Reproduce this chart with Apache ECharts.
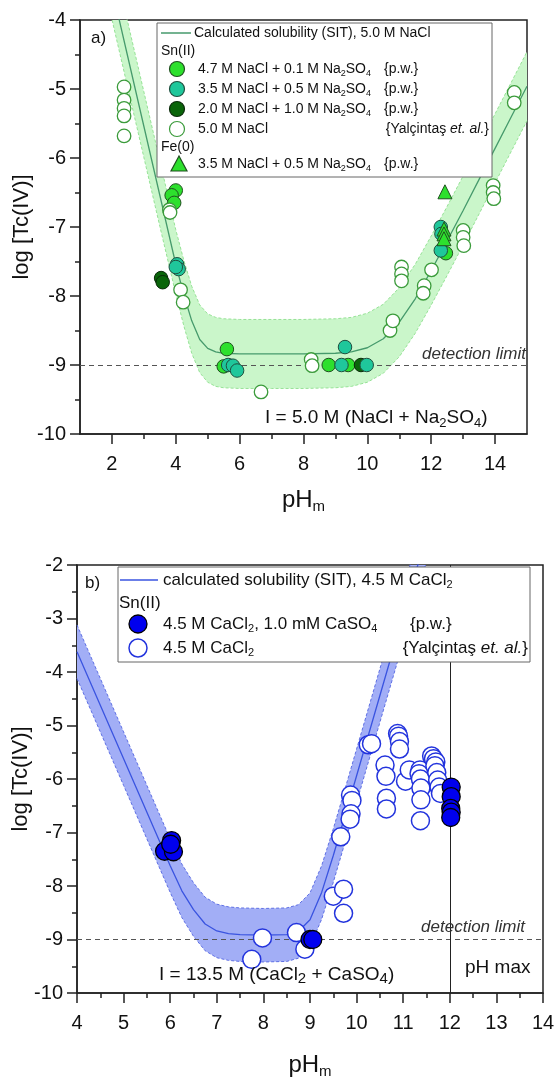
<!DOCTYPE html>
<html><head><meta charset="utf-8">
<script src="https://cdn.jsdelivr.net/npm/echarts@6/dist/echarts.min.js"></script>
<style>html,body{margin:0;padding:0;background:#fff}#c{width:557px;height:1077px}</style>
</head><body><div id="c"></div>
<script>
// ================= DATA: panel a) =================
const aXLabels = [2, 4, 6, 8, 10, 12, 14];
const aXMinor = [3, 5, 7, 9, 11, 13];
const aCurvePH = [1.9, 2.0, 2.5, 3.0, 3.5, 4.0, 4.25, 4.5, 4.75, 5.0, 5.25, 5.5, 6.0, 7.0, 8.0, 9.0, 9.5, 10.0, 10.5, 11.0, 11.5, 12.0, 12.5, 13.0, 13.5, 14.0, 14.5, 15.0];
const aCurve = [-3.34, -3.54, -4.54, -5.54, -6.54, -7.54, -7.98, -8.36, -8.63, -8.76, -8.81, -8.83, -8.84, -8.84, -8.84, -8.83, -8.81, -8.75, -8.62, -8.38, -8.04, -7.63, -7.20, -6.76, -6.31, -5.86, -5.41, -4.96];
const aUpper = [-2.84, -3.04, -4.04, -5.04, -6.04, -7.04, -7.48, -7.86, -8.13, -8.26, -8.31, -8.33, -8.34, -8.34, -8.34, -8.33, -8.31, -8.25, -8.12, -7.88, -7.54, -7.13, -6.70, -6.26, -5.81, -5.36, -4.91, -4.46];
const aLower = [-3.79, -3.99, -4.99, -5.99, -6.99, -7.97, -8.43, -8.83, -9.11, -9.25, -9.31, -9.33, -9.34, -9.34, -9.34, -9.33, -9.31, -9.25, -9.12, -8.88, -8.54, -8.13, -7.70, -7.26, -6.81, -6.36, -5.91, -5.46];
const aSnNa01 = [[4.00, -6.47], [3.87, -6.54], [3.95, -6.65], [5.60, -8.77], [5.50, -9.02], [8.79, -9.00], [9.40, -9.00], [12.46, -7.38]];
const aSnNa10 = [[3.54, -7.74], [3.59, -7.80], [9.80, -9.00]];
const aSnNa05 = [[4.04, -7.54], [4.09, -7.61], [4.00, -7.58], [5.64, -9.00], [5.79, -9.01], [5.92, -9.08], [9.30, -8.74], [9.19, -9.00], [9.98, -9.00], [12.30, -7.00], [12.32, -7.10], [12.30, -7.34]];
const aYalcintas = [[2.38, -4.97], [2.38, -5.16], [2.38, -5.28], [2.38, -5.39], [2.38, -5.68], [3.80, -6.75], [3.82, -6.79], [4.15, -7.91], [4.23, -8.09], [6.67, -9.39], [8.24, -8.92], [8.27, -9.01], [10.71, -8.50], [10.80, -8.36], [11.07, -7.58], [11.07, -7.68], [11.07, -7.78], [11.78, -7.85], [11.75, -7.96], [12.01, -7.62], [13.00, -7.05], [13.00, -7.15], [13.02, -7.27], [13.94, -6.40], [13.94, -6.50], [13.96, -6.59], [14.60, -5.05], [14.60, -5.20]];
const aFe = [[12.43, -6.49], [12.40, -7.03], [12.40, -7.10], [12.40, -7.17]];
const aDetection = -9;

// ================= DATA: panel b) =================
const bCurvePH = [4.0, 4.5, 5.0, 5.5, 6.0, 6.25, 6.5, 6.75, 7.0, 7.25, 7.5, 8.0, 8.5, 8.75, 9.0, 9.25, 9.5, 9.75, 10.0, 10.5, 11.0, 11.5];
const bCurve = [-3.62, -4.62, -5.62, -6.62, -7.62, -8.09, -8.44, -8.71, -8.84, -8.89, -8.91, -8.92, -8.91, -8.85, -8.63, -8.12, -7.43, -6.69, -5.94, -4.44, -2.94, -1.44];
const bUpper = [-3.12, -4.12, -5.12, -6.12, -7.12, -7.59, -7.94, -8.21, -8.34, -8.39, -8.41, -8.42, -8.41, -8.35, -8.13, -7.62, -6.93, -6.19, -5.44, -3.94, -2.44, -0.94];
const bLower = [-4.12, -5.12, -6.12, -7.12, -8.12, -8.59, -8.94, -9.21, -9.34, -9.39, -9.41, -9.42, -9.41, -9.35, -9.13, -8.62, -7.93, -7.19, -6.44, -4.94, -3.44, -1.94];
const bSnCaSO4 = [[5.88, -7.35], [6.03, -7.15], [6.07, -7.36], [6.01, -7.22], [9.00, -9.00], [9.06, -9.00], [12.03, -6.15], [12.03, -6.33], [12.02, -6.55], [12.03, -6.62], [12.02, -6.72]];
const bYalcintas = [[7.75, -9.37], [7.98, -8.97], [8.71, -8.87], [8.89, -9.18], [9.50, -8.19], [9.72, -8.06], [9.72, -8.51], [9.66, -7.08], [9.87, -6.30], [9.90, -6.40], [9.88, -6.65], [9.86, -6.75], [10.25, -5.36], [10.32, -5.34], [10.88, -5.15], [10.90, -5.20], [10.92, -5.30], [10.92, -5.44], [10.61, -5.74], [10.63, -5.95], [10.64, -6.36], [10.64, -6.56], [11.05, -6.04], [11.13, -5.83], [11.36, -5.83], [11.34, -5.90], [11.37, -6.00], [11.38, -6.17], [11.38, -6.39], [11.37, -6.78], [11.61, -5.57], [11.65, -5.62], [11.70, -5.68], [11.68, -5.75], [11.72, -5.88], [11.74, -6.02], [11.77, -6.15], [11.80, -6.27]];
const bDetection = -9;
const bPHmax = 12;

// ================= STYLE =================
const FF = '"Liberation Sans", Arial, Helvetica, sans-serif';
const INK = '#111';
const AX = '#222';
const A_CURVE = '#469a6c', A_FILL = 'rgb(202,246,202)', A_EDGE = 'rgb(150,226,150)';
const B_CURVE = '#3a54e0', B_FILL = 'rgb(162,174,246)', B_EDGE = 'rgb(95,112,228)';

function pairs(xs, ys) { return xs.map((x, i) => [x, ys[i]]); }

function band(idx, ph, up, lo, fill) {
  return {
    type: 'custom', xAxisIndex: idx === 0 ? 0 : 2, yAxisIndex: idx, clip: true, silent: true, z: 1,
    data: [[ph[0], up[0]]],
    renderItem: function (params, api) {
      const pts = [];
      for (let i = 0; i < ph.length; i++) pts.push(api.coord([ph[i], up[i]]));
      for (let i = ph.length - 1; i >= 0; i--) pts.push(api.coord([ph[i], lo[i]]));
      return { type: 'polygon', shape: { points: pts }, style: { fill: fill, stroke: null } };
    }
  };
}
function line(idx, data, color, width, type, extra) {
  return Object.assign({
    type: 'line', xAxisIndex: idx === 0 ? 0 : 2, yAxisIndex: idx, data: data, showSymbol: false, symbol: 'none',
    smooth: false, silent: true, z: 2, clip: true,
    lineStyle: { color: color, width: width, type: type }
  }, extra || {});
}
function scatter(idx, data, size, style, symbol) {
  return {
    type: 'scatter', xAxisIndex: idx === 0 ? 0 : 2, yAxisIndex: idx, data: data, symbol: symbol || 'circle',
    symbolSize: size, silent: true, z: 5, itemStyle: Object.assign({ opacity: 1 }, style)
  };
}

const richBase = (size, sub) => ({
  a: { fontSize: size, fontFamily: FF, fill: INK, lineHeight: size + 4 },
  i: { fontSize: size, fontFamily: FF, fill: INK, fontStyle: 'italic', lineHeight: size + 4 },
  s: { fontSize: sub, fontFamily: FF, fill: INK, lineHeight: sub, verticalAlign: 'bottom' }
});
function txt(x, y, text, size, extra) {
  return {
    type: 'text', x: x, y: y, z: 110, silent: true,
    style: Object.assign({ text: text, fontSize: size, fontFamily: FF, fill: INK, verticalAlign: 'middle', align: 'left' }, extra || {})
  };
}
function rtxt(x, y, text, size, sub, extra) {
  return txt(x, y, text, size, Object.assign({ rich: richBase(size, sub) }, extra || {}));
}

// ================= GRAPHIC (legends & annotations) =================
const G = [];
// panel a legend
G.push({ type: 'rect', z: 100, silent: true, shape: { x: 157, y: 23, width: 335, height: 154 }, style: { fill: '#fff', stroke: '#666', lineWidth: 1 } });
G.push({ type: 'line', z: 110, silent: true, shape: { x1: 161, y1: 33, x2: 191, y2: 33 }, style: { stroke: A_CURVE, lineWidth: 1.5 } });
G.push(txt(194, 33, 'Calculated solubility (SIT), 5.0 M NaCl', 14));
G.push(txt(161, 51, 'Sn(II)', 14));
const aLegRows = [
  { y: 69, fill: '#2de02d', stroke: '#1f4f1f', t: '{a|4.7 M NaCl + 0.1 M Na}{s|2}{a|SO}{s|4}', tag: '{p.w.}' },
  { y: 89, fill: '#1fc79b', stroke: '#1f4f3f', t: '{a|3.5 M NaCl + 0.5 M Na}{s|2}{a|SO}{s|4}', tag: '{p.w.}' },
  { y: 109, fill: '#0a650a', stroke: '#0a2a0a', t: '{a|2.0 M NaCl + 1.0 M Na}{s|2}{a|SO}{s|4}', tag: '{p.w.}' },
  { y: 129, fill: '#fff', stroke: '#3b9b3b', t: '{a|5.0 M NaCl}', tag: null }
];
aLegRows.forEach(r => {
  G.push({ type: 'circle', z: 110, silent: true, shape: { cx: 177, cy: r.y, r: 7.5 }, style: { fill: r.fill, stroke: r.stroke, lineWidth: 1.2 } });
  G.push(rtxt(198, r.y, r.t, 14, 9));
  if (r.tag) G.push(txt(384, r.y, r.tag, 14));
});
G.push(rtxt(489, 129, '{a|{Yalçintaş }{i|et. al.}{a|\u007D}', 14, 9, { align: 'right' }));
G.push(txt(161, 147, 'Fe(0)', 14));
G.push({ type: 'polygon', z: 110, silent: true, shape: { points: [[179, 156], [171, 171], [187, 171]] }, style: { fill: '#2de02d', stroke: '#1f4f1f', lineWidth: 1.2 } });
G.push(rtxt(198, 164, '{a|3.5 M NaCl + 0.5 M Na}{s|2}{a|SO}{s|4}', 14, 9));
G.push(txt(384, 164, '{p.w.}', 14));
// panel a annotations
G.push(txt(91, 38, 'a)', 17));
G.push(rtxt(265, 418, '{a|I = 5.0 M (NaCl + Na}{s|2}{a|SO}{s|4}{a|)}', 19, 13));
G.push(txt(526, 354, 'detection limit', 17, { align: 'right', fontStyle: 'italic', fill: '#333' }));

// panel b legend
G.push({ type: 'rect', z: 100, silent: true, shape: { x: 118, y: 567, width: 412, height: 95 }, style: { fill: '#fff', stroke: '#666', lineWidth: 1 } });
G.push({ type: 'line', z: 110, silent: true, shape: { x1: 120, y1: 580, x2: 158, y2: 580 }, style: { stroke: B_CURVE, lineWidth: 1.5 } });
G.push(rtxt(163, 580, '{a|calculated solubility (SIT), 4.5 M CaCl}{s|2}', 17, 11));
G.push(txt(119, 603, 'Sn(II)', 17));
G.push({ type: 'circle', z: 110, silent: true, shape: { cx: 138, cy: 624, r: 9 }, style: { fill: '#0000ee', stroke: '#000', lineWidth: 1.3 } });
G.push(rtxt(163, 624, '{a|4.5 M CaCl}{s|2}{a|, 1.0 mM CaSO}{s|4}', 17, 11));
G.push(txt(410, 624, '{p.w.}', 17));
G.push({ type: 'circle', z: 110, silent: true, shape: { cx: 138, cy: 648, r: 9 }, style: { fill: '#fff', stroke: '#2233dd', lineWidth: 1.5 } });
G.push(rtxt(163, 648, '{a|4.5 M CaCl}{s|2}', 17, 11));
G.push(rtxt(528, 648, '{a|{Yalçintaş }{i|et. al.}{a|\u007D}', 17, 11, { align: 'right' }));
// panel b annotations
G.push(txt(85, 583, 'b)', 17));
G.push(rtxt(159, 975, '{a|I = 13.5 M (CaCl}{s|2}{a| + CaSO}{s|4}{a|)}', 19, 15));
G.push(txt(465, 968, 'pH max', 19));
G.push(txt(525, 927, 'detection limit', 17, { align: 'right', fontStyle: 'italic', fill: '#333' }));

// ================= AXES =================
const tickStyle = { color: AX, width: 1.5 };
const labelStyle = { fontSize: 20, color: INK, fontFamily: FF };
const xNameStyle = {
  fontSize: 24, color: INK, fontFamily: FF,
  rich: { a: { fontSize: 24, fontFamily: FF, color: INK, lineHeight: 28 }, s: { fontSize: 15, fontFamily: FF, color: INK, lineHeight: 14, verticalAlign: 'bottom' } }
};
const yNameStyle = { fontSize: 22, color: INK, fontFamily: FF };

const option = {
  animation: false,
  backgroundColor: '#fff',
  grid: [
    { left: 80, top: 20, width: 447, height: 414, show: true, borderColor: AX, borderWidth: 1.5, outerBoundsMode: 'none', containLabel: false },
    { left: 77, top: 565, width: 466, height: 428, show: true, borderColor: AX, borderWidth: 1.5, outerBoundsMode: 'none', containLabel: false }
  ],
  xAxis: [
    {
      gridIndex: 0, type: 'value', min: 1, max: 15,
      axisLine: { show: true, onZero: false, lineStyle: tickStyle },
      axisTick: { show: true, customValues: aXLabels, length: 10, lineStyle: tickStyle },
      axisLabel: Object.assign({ customValues: aXLabels, margin: 20 }, labelStyle),
      splitLine: { show: false },
      name: '{a|pH}{s|m}', nameLocation: 'middle', nameGap: 52, nameMoveOverlap: false, nameTextStyle: xNameStyle
    },
    {
      gridIndex: 0, type: 'value', min: 1, max: 15, position: 'bottom',
      axisLine: { show: false, onZero: false },
      axisTick: { show: true, customValues: aXMinor, length: 5, lineStyle: tickStyle },
      axisLabel: { show: false }, splitLine: { show: false }
    },
    {
      gridIndex: 1, type: 'value', min: 4, max: 14, interval: 1,
      axisLine: { show: true, onZero: false, lineStyle: tickStyle },
      axisTick: { show: true, length: 10, lineStyle: tickStyle },
      minorTick: { show: true, splitNumber: 2, length: 5, lineStyle: tickStyle },
      axisLabel: Object.assign({ margin: 20 }, labelStyle),
      splitLine: { show: false }, minorSplitLine: { show: false },
      name: '{a|pH}{s|m}', nameLocation: 'middle', nameGap: 58, nameMoveOverlap: false, nameTextStyle: xNameStyle
    }
  ],
  yAxis: [
    {
      gridIndex: 0, type: 'value', min: -10, max: -4, interval: 1,
      axisLine: { show: true, onZero: false, lineStyle: tickStyle },
      axisTick: { show: true, length: 10, lineStyle: tickStyle },
      minorTick: { show: true, splitNumber: 2, length: 5, lineStyle: tickStyle },
      axisLabel: Object.assign({ margin: 14 }, labelStyle),
      splitLine: { show: false }, minorSplitLine: { show: false },
      name: 'log [Tc(IV)]', nameLocation: 'middle', nameGap: 47, nameRotate: 90, nameMoveOverlap: false, nameTextStyle: yNameStyle
    },
    {
      gridIndex: 1, type: 'value', min: -10, max: -2, interval: 1,
      axisLine: { show: true, onZero: false, lineStyle: tickStyle },
      axisTick: { show: true, length: 10, lineStyle: tickStyle },
      minorTick: { show: true, splitNumber: 2, length: 5, lineStyle: tickStyle },
      axisLabel: Object.assign({ margin: 14 }, labelStyle),
      splitLine: { show: false }, minorSplitLine: { show: false },
      name: 'log [Tc(IV)]', nameLocation: 'middle', nameGap: 45, nameRotate: 90, nameMoveOverlap: false, nameTextStyle: yNameStyle
    }
  ],
  graphic: { elements: G },
  series: [
    // ---- panel a ----
    band(0, aCurvePH, aUpper, aLower, A_FILL),
    line(0, pairs(aCurvePH, aUpper), A_EDGE, 1, [3, 2]),
    line(0, pairs(aCurvePH, aLower), A_EDGE, 1, [3, 2]),
    line(0, pairs(aCurvePH, aCurve), A_CURVE, 1.3, 'solid', {
      markLine: {
        silent: true, symbol: ['none', 'none'], label: { show: false },
        lineStyle: { type: [5, 4], color: '#555', width: 1 },
        data: [{ yAxis: aDetection }]
      }
    }),
    scatter(0, aSnNa01, 13.5, { color: '#2de02d', borderColor: '#1f4f1f', borderWidth: 1 }),
    scatter(0, aSnNa10, 13.5, { color: '#0a650a', borderColor: '#0a2a0a', borderWidth: 1 }),
    scatter(0, aSnNa05, 13.5, { color: '#1fc79b', borderColor: '#1f4f3f', borderWidth: 1 }),
    scatter(0, aYalcintas, 13.5, { color: '#fff', borderColor: '#3b9b3b', borderWidth: 1.3 }),
    scatter(0, aFe, 14, { color: '#2de02d', borderColor: '#1f4f1f', borderWidth: 1 }, 'triangle'),
    // ---- panel b ----
    band(1, bCurvePH, bUpper, bLower, B_FILL),
    line(1, pairs(bCurvePH, bUpper), B_EDGE, 1, [3, 2]),
    line(1, pairs(bCurvePH, bLower), B_EDGE, 1, [3, 2]),
    line(1, pairs(bCurvePH, bCurve), B_CURVE, 1.3, 'solid', {
      markLine: {
        silent: true, symbol: ['none', 'none'], label: { show: false },
        data: [
          { yAxis: bDetection, lineStyle: { type: [5, 4], color: '#555', width: 1 } },
          { xAxis: bPHmax, lineStyle: { type: 'solid', color: '#222', width: 1 } }
        ]
      }
    }),
    scatter(1, bYalcintas, 18, { color: '#fff', borderColor: '#2233dd', borderWidth: 1.5 }),
    scatter(1, bSnCaSO4, 18, { color: '#0000ee', borderColor: '#000', borderWidth: 1.3 })
  ]
};

const chart = echarts.init(document.getElementById('c'), null, { renderer: 'canvas' });
chart.setOption(option);
</script>
</body></html>
